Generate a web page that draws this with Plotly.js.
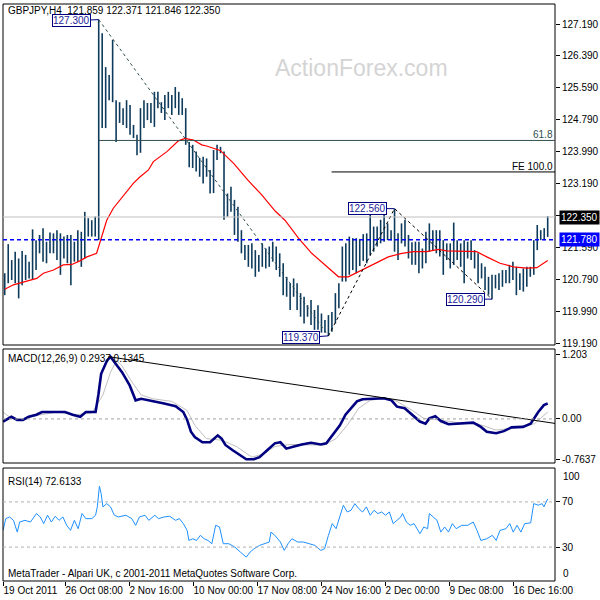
<!DOCTYPE html>
<html><head><meta charset="utf-8">
<script src="https://cdn.plot.ly/plotly-3.0.1.min.js"></script>
<style>html,body{margin:0;padding:0;background:#fff}#chart{width:600px;height:600px}</style>
</head><body><div id="chart"></div>
<script>
// ---- data ----
const dateLabels = ['19 Oct 2011','26 Oct 08:00','2 Nov 16:00','10 Nov 00:00','17 Nov 08:00','24 Nov 16:00','2 Dec 00:00','9 Dec 08:00','16 Dec 16:00'];
const barHigh = [120.94,121.67,121.27,121.48,121.31,121.50,121.40,121.23,122.04,121.77,
121.90,122.07,121.73,121.96,121.94,122.02,121.94,121.86,121.90,121.90,
121.73,122.02,121.98,122.48,122.32,122.27,122.36,127.30,126.96,126.11,
125.91,126.79,125.28,125.23,125.08,125.28,125.16,124.66,124.41,125.08,
125.28,125.21,125.21,125.49,125.49,125.23,125.41,125.49,125.41,125.61,
125.49,125.33,125.08,124.23,124.16,123.99,123.83,123.86,123.82,123.53,
124.03,124.16,124.11,123.99,122.94,123.11,122.78,122.61,122.02,121.65,
121.65,121.69,121.52,121.40,121.69,121.56,121.61,121.73,121.61,121.44,
121.19,120.85,120.69,120.81,120.69,120.44,120.35,120.14,120.27,120.02,
120.14,119.93,119.77,119.89,119.97,120.44,120.69,121.61,121.69,121.86,
121.82,121.82,121.80,121.92,121.94,122.46,122.11,122.11,122.28,122.48,
122.19,122.02,122.56,121.94,122.19,122.28,121.90,121.72,121.73,121.73,
121.56,121.98,122.19,122.02,122.02,122.02,121.77,121.69,121.69,122.21,
121.77,121.69,121.77,121.73,121.77,121.52,121.44,121.19,121.10,120.85,
120.90,120.90,120.94,121.02,121.02,121.15,121.23,121.10,120.94,121.06,
121.10,121.10,121.77,122.15,122.02,122.07,122.37];
const barLow = [120.39,120.69,120.77,120.69,120.31,120.64,120.77,120.81,120.77,121.02,
121.44,121.23,121.19,121.44,121.44,121.27,120.90,121.31,121.19,120.64,
121.23,121.23,121.10,121.31,121.86,121.86,121.86,121.77,124.58,124.58,
125.28,125.23,124.23,124.71,124.66,124.58,124.41,124.33,123.90,123.96,
124.58,124.78,124.71,124.61,125.08,124.96,124.78,125.08,124.91,125.08,
124.91,124.91,124.16,123.60,123.58,123.49,123.36,123.19,123.36,122.94,
122.95,123.78,123.95,122.28,122.36,122.48,121.90,121.73,121.44,121.27,
121.10,121.06,120.85,120.98,121.10,121.06,121.10,121.23,121.02,120.85,
120.39,120.35,120.02,120.35,120.02,119.85,119.68,119.85,119.64,119.52,
119.52,119.45,119.45,119.37,119.47,119.68,120.06,120.73,120.73,120.90,
121.02,120.94,121.12,121.25,121.19,121.40,121.48,121.61,121.69,121.73,
121.77,121.77,121.48,121.27,121.69,121.61,121.31,121.15,121.15,120.94,
121.06,121.19,121.48,121.52,121.44,121.36,120.90,121.27,121.06,121.15,
121.27,121.10,120.69,121.31,121.27,121.06,120.69,120.81,120.52,120.40,
120.29,120.56,120.52,120.60,120.69,120.69,120.77,120.39,120.52,120.48,
120.60,120.85,120.90,121.52,121.77,121.77,121.85];
const maX = [0,2.5,5.8,9.2,11.1,14,16.8,19.3,21.6,23.6,26.4,27.4,29.3,31.2,34.6,37,38.9,41.3,42.7,46.6,49.9,51.8,54.2,56.6,58,61.9,65.7,69.8,73.9,77.7,80.5,84.4,88.2,92,95.9,98.7,102.6,106.4,110.2,114.1,117.4,121.3,124.6,127,135.6,138.5,142.3,146.1,150,152.9,156];
const maY = [120.54,120.65,120.73,120.81,120.94,121.02,121.15,121.16,121.25,121.35,121.44,121.73,122.27,122.57,122.94,123.20,123.36,123.53,123.74,123.99,124.26,124.32,124.28,124.16,124.13,124.02,123.70,123.28,122.90,122.50,122.27,121.82,121.44,121.15,120.85,120.85,121.02,121.19,121.35,121.44,121.48,121.48,121.54,121.50,121.48,121.35,121.19,121.10,121.07,121.08,121.26];
const zigX = [27,93,112,140];
const zigY = [127.30,119.37,122.56,120.29];
const macdX = [-0.5,1.9,3.6,5.2,6.9,9.1,10.7,12.9,15.1,17.3,19.5,21.7,23.3,26.1,26.9,27.7,29.4,30.4,31.5,33.7,35.9,37.6,39.2,42.5,45.8,49.1,51.3,52.4,53.5,54.6,56.8,59.0,61.2,62.3,63.4,65.5,67.7,69.4,71.6,73.2,75.4,77.6,79.2,80.9,83.1,85.3,88.0,90.8,92.4,94.1,96.3,97.9,99.5,101.2,102.8,106.1,108.9,111.1,112.7,114.9,117.1,119.3,120.9,122.0,123.7,125.3,127.5,130.2,134.6,136.8,138.5,141.2,143.4,145.6,148.9,151.1,152.2,153.3,154.9,156];
const macdY = [-0.05,0.04,-0.02,-0.02,0.04,0.08,0.13,0.13,0.14,0.13,0.08,0.04,0.13,0.13,0.45,0.85,1.10,1.17,1.07,0.88,0.63,0.35,0.38,0.34,0.29,0.24,0.13,-0.02,-0.24,-0.34,-0.44,-0.44,-0.31,-0.37,-0.49,-0.59,-0.69,-0.76,-0.76,-0.72,-0.59,-0.46,-0.44,-0.56,-0.52,-0.48,-0.45,-0.48,-0.46,-0.31,-0.12,0.08,0.20,0.33,0.37,0.38,0.39,0.35,0.23,0.20,0.08,-0.05,-0.09,0.01,0.05,-0.04,-0.10,-0.09,-0.07,-0.15,-0.24,-0.27,-0.23,-0.16,-0.15,-0.09,0.02,0.13,0.26,0.29];
const sigX = [-0.5,1.9,5.2,9.6,15.1,20.6,25.0,28.2,30.4,32.1,33.7,36.5,39.2,42.5,48.0,52.4,54.6,57.9,62.3,66.6,71.0,74.3,77.6,82.0,86.4,91.9,95.2,98.4,101.7,105.0,109.4,112.7,117.1,120.4,124.8,130.2,135.7,141.2,146.7,152.2,156];
const sigY = [0.13,0.01,0.00,0.07,0.13,0.08,0.11,0.45,0.88,1.10,1.00,0.70,0.45,0.38,0.33,0.16,-0.12,-0.37,-0.40,-0.52,-0.72,-0.66,-0.52,-0.48,-0.49,-0.49,-0.37,-0.12,0.20,0.35,0.39,0.33,0.16,0.01,-0.02,-0.07,-0.09,-0.21,-0.17,-0.09,0.13];
const macdTrendX = [29.9,158.1];
const macdTrendY = [1.17,-0.085];
const rsiX = [-0.5,0.3,1.4,2.5,3.6,4.3,5.8,7.4,9.1,10.2,11.2,12.3,13.4,14.5,15.6,16.7,17.8,18.9,20.0,21.1,22.2,23.3,25.0,26.1,26.6,27.2,27.7,28.2,29.3,30.4,31.5,32.6,34.8,36.5,37.6,38.7,40.3,41.4,43.1,44.2,45.8,47.4,49.1,50.2,51.3,52.4,52.9,54.0,55.1,56.2,57.3,58.4,59.5,60.6,61.7,62.8,64.4,66.1,67.7,69.4,70.5,71.6,73.2,74.9,76.0,76.5,77.6,79.2,80.3,81.4,82.5,84.2,85.8,87.5,89.1,90.8,91.9,93.0,94.1,95.2,96.3,97.3,98.4,99.5,100.6,101.7,102.8,103.9,105.0,106.1,107.2,108.3,109.4,110.5,111.6,112.7,113.8,114.3,115.4,116.5,117.6,119.3,120.4,121.5,122.0,123.1,124.2,125.3,126.4,127.5,128.6,129.7,131.3,133.0,134.6,135.7,136.8,138.5,140.1,141.2,142.3,144.0,145.1,146.1,147.2,148.3,149.4,151.1,152.0,153.3,154.4,154.9,156];
const rsiY = [44.8,55.2,56.7,53.7,43.3,52.2,53.7,52.2,59.7,56.7,50.8,58.2,52.2,57.3,53.7,56.7,49.3,44.8,53.7,46.3,59.7,55.2,55.2,58.2,65.6,83.9,77.4,65.6,68.5,65.6,58.2,56.7,58.2,55.2,49.3,56.7,58.2,53.7,58.2,55.2,56.7,57.3,53.7,55.2,50.8,44.8,35.9,37.4,35.9,40.4,37.4,35.9,33.0,49.3,47.8,33.0,33.0,30.0,25.6,21.1,25.6,28.5,31.5,33.0,34.5,43.3,40.4,34.5,27.1,33.0,37.4,34.5,34.5,33.0,31.5,27.1,28.5,40.4,50.8,46.3,56.7,67.1,61.1,62.6,68.5,64.1,61.1,65.6,58.2,62.6,59.7,61.1,58.2,61.1,50.8,53.7,56.7,59.7,52.2,49.3,50.8,41.9,47.8,46.3,59.7,56.7,53.7,43.3,47.8,43.3,50.8,46.3,49.3,49.3,52.2,44.8,35.9,37.4,40.4,35.9,44.8,46.3,50.8,43.3,49.3,43.3,50.8,51.4,68.5,67.1,68.5,65.6,72.6];
const priceTicks = [127.19,126.39,125.59,124.79,123.99,123.19,122.39,121.59,120.79,119.99,119.19];
const hiddenTick = 122.39; // covered by the current-price box in the reference
const fib618 = 124.27, fe100 = 123.48, bidPrice = 122.35, linePrice = 121.78;

// ---- layout constants ----
const xEnd = 158.1;
const firstTick = 17.32, tickStep = 18.39;
const xTickVals = dateLabels.map((d,k)=> k===0 ? -0.5 : firstTick + tickStep*(k-1));
const FONT = 'Liberation Sans, Arial, sans-serif';

const bx=[], by=[];
barHigh.forEach((h,i)=>{ bx.push(i,i,null); by.push(h,barLow[i],null); });

const traces = [
  {x:bx, y:by, type:'scatter', mode:'lines', line:{color:'#0e3b5c', width:1.6}, xaxis:'x', yaxis:'y', hoverinfo:'skip'},
  {x:maX, y:maY, type:'scatter', mode:'lines', line:{color:'#ff0000', width:1.2}, xaxis:'x', yaxis:'y'},
  {x:zigX.slice(0,2), y:zigY.slice(0,2), type:'scatter', mode:'lines', line:{color:'#2f4f4f', width:1, dash:'dot'}, xaxis:'x', yaxis:'y'},
  {x:zigX.slice(1), y:zigY.slice(1), type:'scatter', mode:'lines', line:{color:'#000000', width:1, dash:'dot'}, xaxis:'x', yaxis:'y'},
  {x:sigX, y:sigY, type:'scatter', mode:'lines', line:{color:'#c0c0c0', width:1}, xaxis:'x', yaxis:'y2'},
  {x:macdX, y:macdY, type:'scatter', mode:'lines', line:{color:'#000080', width:2.6}, xaxis:'x', yaxis:'y2'},
  {x:macdTrendX, y:macdTrendY, type:'scatter', mode:'lines', line:{color:'#000000', width:1}, xaxis:'x', yaxis:'y2'},
  {x:rsiX, y:rsiY, type:'scatter', mode:'lines', line:{color:'#1e90ff', width:1}, xaxis:'x', yaxis:'y3'}
];

const axY = {showgrid:false, zeroline:false, side:'right', ticks:'outside', ticklen:4, tickcolor:'#000', tickfont:{family:FONT,size:10,color:'#000'}, showline:false, fixedrange:true};

const shapes = [];
['y','y2','y3'].forEach(a=>shapes.push({type:'rect', xref:'x domain', yref:a+' domain', x0:0, x1:1, y0:0, y1:1, line:{color:'#000', width:1}}));
shapes.push({type:'line', xref:'x domain', x0:0, x1:1, yref:'y', y0:bidPrice, y1:bidPrice, line:{color:'#c0c0c0', width:1}});
shapes.push({type:'line', xref:'x domain', x0:0, x1:1, yref:'y', y0:linePrice, y1:linePrice, line:{color:'#0000ff', width:1.3, dash:'4px,3px'}});
shapes.push({type:'line', xref:'x', x0:zigX[0], x1:xEnd, yref:'y', y0:fib618, y1:fib618, line:{color:'#2f4f4f', width:1}});
shapes.push({type:'line', xref:'x', x0:93.9, x1:xEnd, yref:'y', y0:fe100, y1:fe100, line:{color:'#000', width:1}});
shapes.push({type:'line', xref:'x domain', x0:0, x1:1, yref:'y2', y0:0, y1:0, line:{color:'#a0a0a0', width:1, dash:'3px,3px'}});
[70,30].forEach(v=>shapes.push({type:'line', xref:'x domain', x0:0, x1:1, yref:'y3', y0:v, y1:v, line:{color:'#b0b0b0', width:1, dash:'3px,3px'}}));

const f = (s,c)=>({family:FONT,size:s,color:c||'#000'});
const annotations = [
  {xref:'paper', yref:'paper', x:0, y:1, xanchor:'left', yanchor:'top', xshift:3, yshift:1, showarrow:false, text:'GBPJPY,H4  121.859 122.371 121.846 122.350', font:f(10)},
  {xref:'paper', yref:'paper', x:0.6486, y:0.889, xanchor:'center', yanchor:'middle', showarrow:false, text:'ActionForex.com', font:{family:FONT,size:23,color:'#d4d4d4'}},
  {xref:'paper', yref:'y2 domain', x:0, y:1, xanchor:'left', yanchor:'top', xshift:3, yshift:-2, showarrow:false, text:'MACD(12,26,9) 0.2937 0.1345', font:f(10)},
  {xref:'paper', yref:'y3 domain', x:0, y:1, xanchor:'left', yanchor:'top', xshift:3, yshift:-6, showarrow:false, text:'RSI(14) 72.6133', font:f(10)},
  {xref:'paper', yref:'y3 domain', x:0, y:0, xanchor:'left', yanchor:'bottom', xshift:3, yshift:0, showarrow:false, text:'MetaTrader - Alpari UK, c 2001-2011 MetaQuotes Software Corp.', font:f(10)},
  {xref:'x', yref:'y', x:xEnd, y:fib618, xanchor:'right', yanchor:'bottom', showarrow:false, text:'61.8', font:f(10,'#2f4f4f'), yshift:-2},
  {xref:'x', yref:'y', x:xEnd, y:fe100, xanchor:'right', yanchor:'bottom', showarrow:false, text:'FE 100.0', font:f(10,'#000'), yshift:-2},
  {xref:'paper', yref:'y', x:1, y:bidPrice, xanchor:'left', yanchor:'middle', xshift:4, showarrow:false, text:'122.350', font:f(10,'#fff'), bgcolor:'#000', borderpad:1},
  {xref:'paper', yref:'y', x:1, y:linePrice, xanchor:'left', yanchor:'middle', xshift:4, showarrow:false, text:'121.780', font:f(10,'#fff'), bgcolor:'#0000ff', borderpad:1},
  {xref:'paper', yref:'y3 domain', x:1, y:1, xanchor:'left', yanchor:'top', xshift:6, yshift:-1, showarrow:false, text:'100', font:f(10)},
  {xref:'paper', yref:'y3 domain', x:1, y:0, xanchor:'left', yanchor:'bottom', xshift:6, yshift:0, showarrow:false, text:'0', font:f(10)}
];
zigX.forEach((xv,i)=>{
  annotations.push({xref:'x', yref:'y', x:xv, y:zigY[i], text:zigY[i].toFixed(3), showarrow:true, arrowhead:0, arrowwidth:1, arrowcolor:'#000080', ax:-27, ay:(i===0?1:(i===1?2:0)), standoff:0,
    font:f(10,'#1c1c9a'), bgcolor:'#fff', bordercolor:'#000080', borderwidth:1, borderpad:0});
});

const layout = {
  width:600, height:600, margin:{l:3, r:45, t:4, b:19},
  paper_bgcolor:'#fff', plot_bgcolor:'#fff', showlegend:false,
  font:{family:FONT, size:10, color:'#000'},
  xaxis:{range:[-0.5,xEnd], anchor:'y3', showgrid:false, zeroline:false, tickvals:xTickVals, ticktext:dateLabels, ticks:'outside', ticklen:4, tickcolor:'#000', tickangle:0, ticklabelposition:'outside right', tickfont:f(10), showline:false, fixedrange:true, automargin:false},
  yaxis:Object.assign({}, axY, {domain:[0.409,1], range:[119.14,127.692], anchor:'x', tickvals:priceTicks, ticktext:priceTicks.map(v=> v===hiddenTick ? '' : v.toFixed(3))}),
  yaxis2:Object.assign({}, axY, {domain:[0.2045,0.4021], range:[-0.83,1.316], anchor:'x', tickvals:[1.203,0,-0.7637], ticktext:['1.203','0.00','-0.7637']}),
  yaxis3:Object.assign({}, axY, {domain:[0,0.1958], range:[0,100], anchor:'x', tickvals:[70,30], ticktext:['70','30']}),
  shapes:shapes, annotations:annotations
};
Plotly.newPlot('chart', traces, layout, {staticPlot:true, displayModeBar:false});
</script></body></html>
